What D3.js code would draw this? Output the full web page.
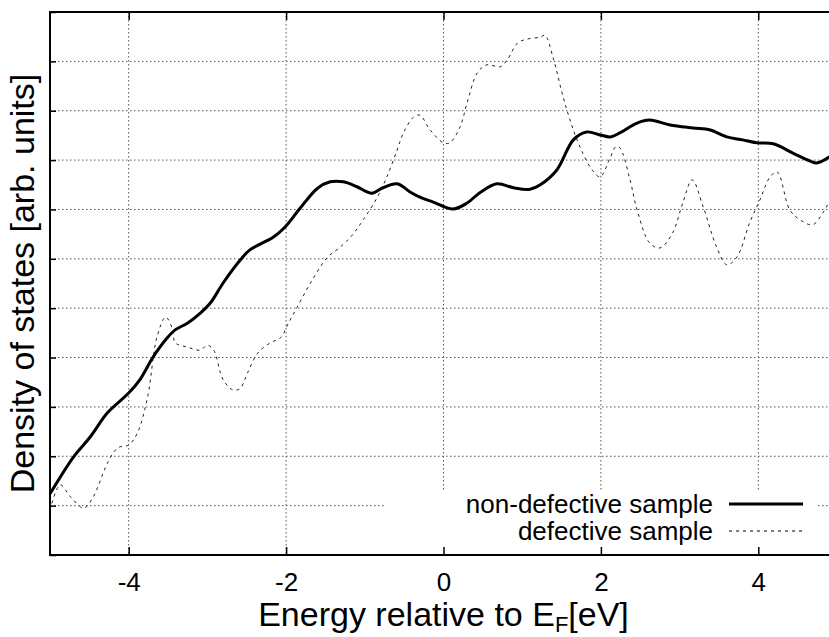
<!DOCTYPE html>
<html>
<head>
<meta charset="utf-8">
<script src="https://cdn.jsdelivr.net/npm/d3@7"></script>
<style>
    body { margin: 0; background: #fff; }
    svg { display: block; font-family: "Liberation Sans", Arial, sans-serif; }
</style>
</head>
<body>
<div id="chart"></div>
<script>

// energy (eV) and density of states (arb. units)
let energyNonDefective = [-5.0, -4.70, -4.49, -4.27, -4.00, -3.85, -3.69, -3.51, -3.41, -3.25, -3.09, -2.96, -2.80, -2.58, -2.46,
    -2.16, -2.01, -1.82, -1.60, -1.44, -1.27, -1.10, -0.91, -0.77, -0.59, -0.42, -0.30, -0.13, 0.12, 0.30,
    0.47, 0.68, 0.89, 1.10, 1.23, 1.44, 1.65, 1.82, 1.99, 2.12, 2.24, 2.46, 2.62, 2.88, 3.17,
    3.39, 3.60, 3.80, 3.98, 4.19, 4.44, 4.66, 4.74, 4.90, 5.0];
let dosNonDefective = [1.24, 1.99, 2.39, 2.88, 3.28, 3.57, 4.01, 4.40, 4.56, 4.70, 4.90, 5.11, 5.51, 5.98, 6.18,
    6.44, 6.65, 7.03, 7.43, 7.56, 7.56, 7.46, 7.33, 7.44, 7.52, 7.35, 7.25, 7.15, 7.01, 7.13,
    7.35, 7.52, 7.44, 7.41, 7.50, 7.80, 8.41, 8.57, 8.51, 8.47, 8.55, 8.75, 8.81, 8.71, 8.65,
    8.61, 8.47, 8.41, 8.35, 8.33, 8.14, 7.98, 7.94, 8.06, 8.2];

let energyDefective = [-5.0, -4.87, -4.74, -4.57, -4.45, -4.27, -4.14, -4.00, -3.89, -3.76, -3.64, -3.53, -3.44, -3.41, -3.25,
    -3.09, -3.00, -2.92, -2.80, -2.67, -2.58, -2.49, -2.36, -2.20, -2.07, -1.97, -1.86, -1.69, -1.48, -1.31,
    -1.16, -1.02, -0.84, -0.72, -0.59, -0.51, -0.38, -0.30, -0.17, 0.00, 0.08, 0.21, 0.30, 0.43, 0.55,
    0.72, 0.81, 0.94, 1.06, 1.23, 1.29, 1.39, 1.52, 1.65, 1.77, 1.89, 1.99, 2.12, 2.19, 2.24,
    2.37, 2.46, 2.62, 2.75, 2.91, 3.04, 3.16, 3.30, 3.47, 3.60, 3.73, 3.89, 4.02, 4.15, 4.24,
    4.40, 4.53, 4.69, 4.82, 4.90, 5.0];
let dosDefective = [0.91, 1.42, 1.18, 0.95, 1.18, 1.86, 2.17, 2.23, 2.47, 3.20, 4.42, 4.82, 4.56, 4.30, 4.21,
    4.15, 4.25, 4.15, 3.55, 3.34, 3.38, 3.69, 4.09, 4.30, 4.40, 4.70, 5.02, 5.51, 6.02, 6.24,
    6.48, 6.79, 7.25, 7.66, 8.20, 8.55, 8.87, 8.91, 8.61, 8.35, 8.35, 8.67, 9.16, 9.77, 9.93,
    9.89, 10.03, 10.37, 10.45, 10.49, 10.53, 10.09, 9.28, 8.61, 8.14, 7.80, 7.66, 8.06, 8.27, 8.25,
    7.60, 6.99, 6.32, 6.22, 6.52, 7.13, 7.60, 7.05, 6.24, 5.88, 6.04, 6.73, 7.19, 7.66, 7.76,
    6.99, 6.79, 6.69, 6.93, 7.15, 7.4];

let xTickValues = [-4, -2, 0, 2, 4];
let yTickValues = [0, 1, 2, 3, 4, 5, 6, 7, 8, 9, 10, 11];
let legendLabels = ["non-defective sample", "defective sample"];

let svgWidth = 829;
let svgHeight = 637;
let margin = {top: 12, left: 50};
let plotWidth = 787;   // right edge falls just outside the picture
let plotHeight = 543;

let svg = d3.select("#chart").append("svg")
    .attr("width", svgWidth)
    .attr("height", svgHeight);

let g = svg.append("g")
    .attr("transform", `translate(${margin.left}, ${margin.top})`);

let x = d3.scaleLinear().domain([-5, 5]).range([0, plotWidth]);
let y = d3.scaleLinear().domain([0, 11]).range([plotHeight, 0]);

// grid
g.selectAll(".vgrid")
    .data(xTickValues)
    .enter().append("line")
    .attr("class", "vgrid")
    .attr("x1", d => x(d)).attr("x2", d => x(d))
    .attr("y1", 0).attr("y2", plotHeight)
    .attr("stroke", "#555")
    .attr("stroke-width", 1)
    .attr("stroke-dasharray", "1.5,2.5");

g.selectAll(".hgrid")
    .data(yTickValues.slice(1, -1))
    .enter().append("line")
    .attr("class", "hgrid")
    .attr("x1", 0).attr("x2", plotWidth)
    .attr("y1", d => y(d)).attr("y2", d => y(d))
    .attr("stroke", "#555")
    .attr("stroke-width", 1)
    .attr("stroke-dasharray", "1.5,2.5");

// opaque key box
g.append("rect")
    .attr("x", 335)
    .attr("y", 479)
    .attr("width", 433)
    .attr("height", plotHeight - 479)
    .attr("fill", "#fff");

// axes with inward ticks
let xAxis = d3.axisBottom(x).tickValues(xTickValues).tickSizeInner(-8).tickSizeOuter(0).tickPadding(18)
    .tickFormat(d => String(d));
let xAxisTop = d3.axisTop(x).tickValues(xTickValues).tickSizeInner(-8).tickSizeOuter(0).tickFormat("");
let yAxis = d3.axisLeft(y).tickValues(yTickValues).tickSizeInner(-6).tickSizeOuter(0).tickFormat("");

g.append("g")
    .attr("transform", `translate(0, ${plotHeight})`)
    .call(xAxis)
    .call(a => a.select(".domain").remove())
    .call(a => a.selectAll("text").attr("font-size", 26).attr("fill", "#000").attr("font-family", "Liberation Sans, Arial, sans-serif"))
    .call(a => a.selectAll("line").attr("stroke", "#000").attr("stroke-width", 1.5));

g.append("g")
    .call(xAxisTop)
    .call(a => a.select(".domain").remove())
    .call(a => a.selectAll("line").attr("stroke", "#000").attr("stroke-width", 1.5));

g.append("g")
    .call(yAxis)
    .call(a => a.select(".domain").remove())
    .call(a => a.selectAll("line").attr("stroke", "#000").attr("stroke-width", 1.5));

// frame
g.append("path")
    .attr("d", `M${plotWidth},0H0V${plotHeight}H${plotWidth}`)
    .attr("fill", "none")
    .attr("stroke", "#000")
    .attr("stroke-width", 2);

// curves
g.append("clipPath").attr("id", "plot-clip")
    .append("rect").attr("width", plotWidth).attr("height", plotHeight);

let line = d3.line()
    .x(d => x(d[0]))
    .y(d => y(d[1]))
    .curve(d3.curveCatmullRom);

g.append("path")
    .datum(d3.zip(energyDefective, dosDefective))
    .attr("clip-path", "url(#plot-clip)")
    .attr("fill", "none")
    .attr("stroke", "#222")
    .attr("stroke-width", 1)
    .attr("stroke-dasharray", "3,4")
    .attr("d", line);

g.append("path")
    .datum(d3.zip(energyNonDefective, dosNonDefective))
    .attr("clip-path", "url(#plot-clip)")
    .attr("fill", "none")
    .attr("stroke", "#000")
    .attr("stroke-width", 3)
    .attr("stroke-linejoin", "round")
    .attr("d", line);

// legend
let legend = g.append("g");
legendLabels.forEach((label, i) => {
    let ly = 501 + i * 27;
    legend.append("text")
        .attr("x", 663)
        .attr("y", ly)
        .attr("text-anchor", "end")
        .attr("font-size", 26)
        .text(label);
    legend.append("line")
        .attr("x1", 679).attr("x2", 753)
        .attr("y1", ly - 9).attr("y2", ly - 9)
        .attr("stroke", "#000")
        .attr("stroke-width", i === 0 ? 3 : 1)
        .attr("stroke-dasharray", i === 0 ? null : "3,4");
});

// axis titles
let xTitle = svg.append("text")
    .attr("x", margin.left + plotWidth / 2)
    .attr("y", 626)
    .attr("text-anchor", "middle")
    .attr("font-size", 34);
xTitle.append("tspan").text("Energy relative to E");
xTitle.append("tspan").attr("font-size", 22).attr("dy", 6).text("F");
xTitle.append("tspan").attr("dy", -6).text("[eV]");

svg.append("text")
    .attr("transform", `translate(34, ${margin.top + plotHeight / 2}) rotate(-90)`)
    .attr("text-anchor", "middle")
    .attr("font-size", 34)
    .text("Density of states [arb. units]");

</script>
</body>
</html>
